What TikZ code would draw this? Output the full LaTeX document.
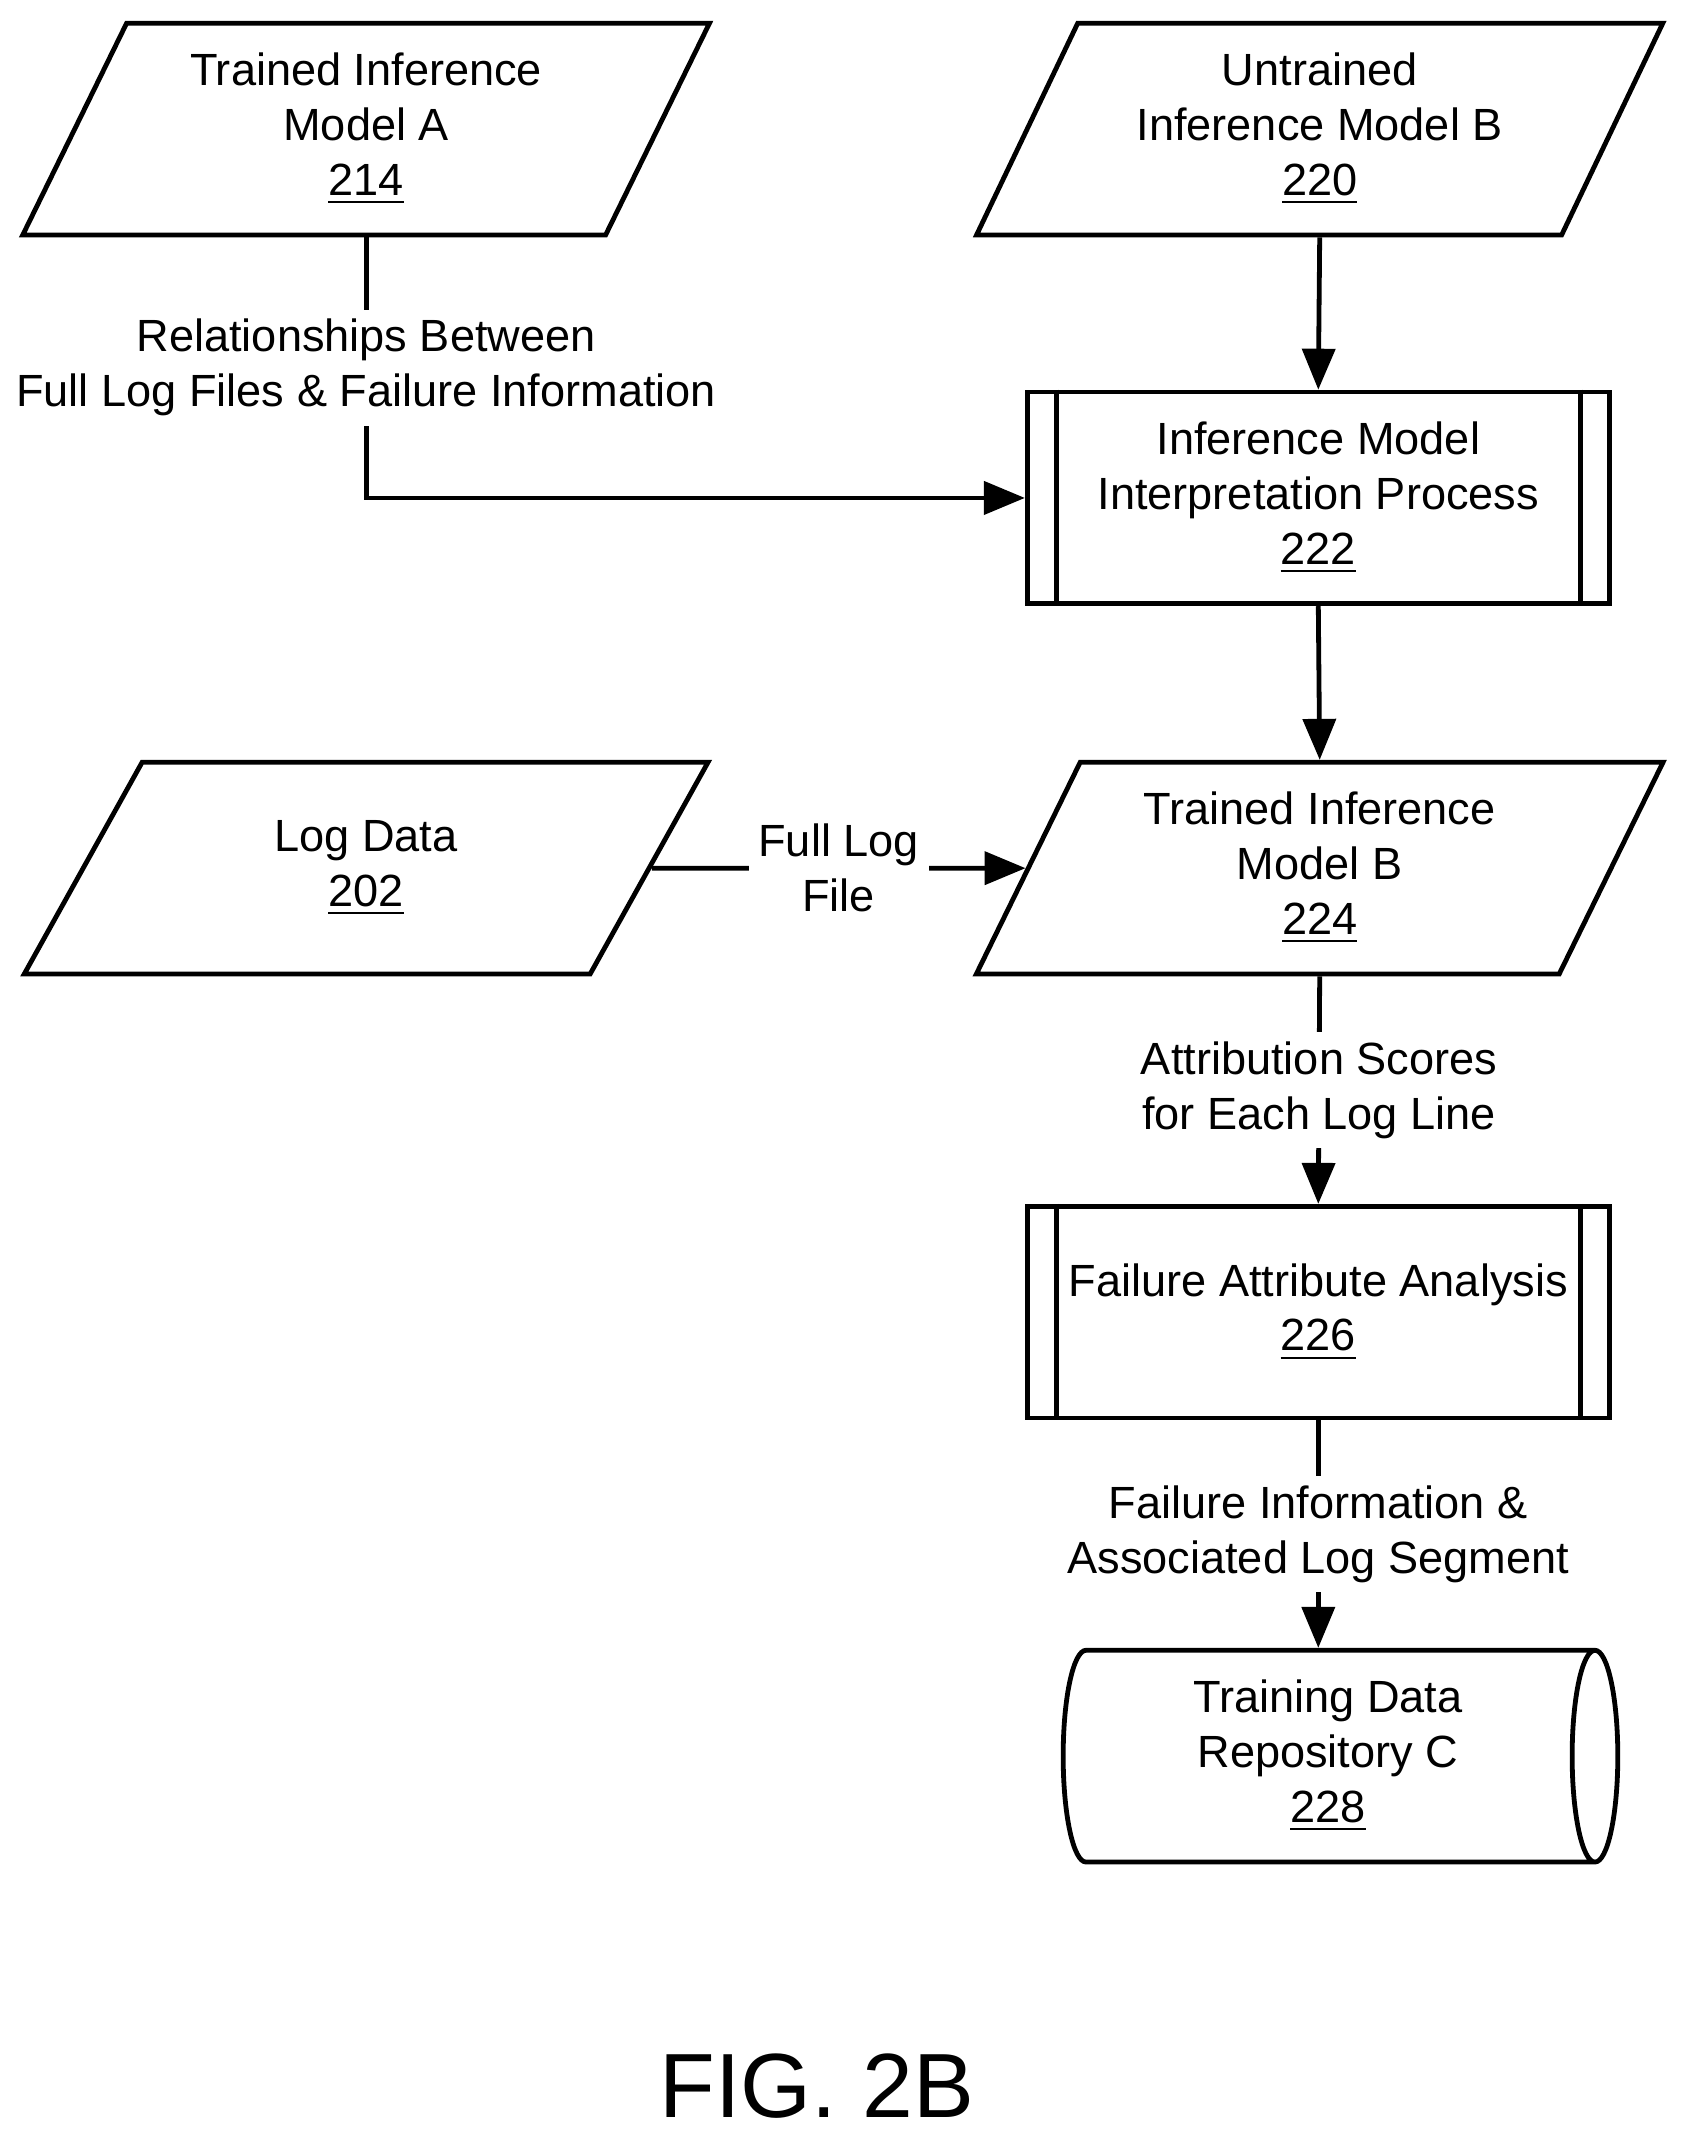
\documentclass[tikz,border=0pt]{standalone}
\usepackage{fontspec}
\setmainfont{Liberation Sans}
\usetikzlibrary{shapes.geometric, arrows.meta, positioning}

\begin{document}
\begin{tikzpicture}[
    line width=1pt,
    every node/.style={font=\fontsize{9.4pt}{11.4pt}\selectfont, align=center},
    data/.style={trapezium, draw, trapezium left angle=63.3, trapezium right angle=116.7,
        trapezium stretches=true, minimum width=5.03cm, minimum height=1.55cm, inner sep=0pt},
    process/.style={rectangle, draw, minimum width=4.26cm, minimum height=1.55cm, inner sep=0pt},
    store/.style={cylinder, draw, shape aspect=0.3, minimum width=1.55cm, minimum height=4.06cm, inner sep=0pt},
    arrow/.style={-{Triangle[length=3mm, width=2.4mm]}},
    lbl/.style={fill=white, inner sep=2pt}
]
\useasboundingbox (0,0) rectangle (12.4,-15.76);

% Inputs
\node[data] (tima) at (2.68,-0.945) {Trained Inference\\Model A\\\underline{214}};
\node[data] (uimb) at (9.66,-0.945) {Untrained\\Inference Model B\\\underline{220}};
\node[data] (logd) at (2.68,-6.355) {Log Data\\\underline{202}};

% Processes
\node[process] (imip) at (9.65,-3.645) {Inference Model\\Interpretation Process\\\underline{222}};
\node[data] (timb) at (9.66,-6.355) {Trained Inference\\Model B\\\underline{224}};
\node[process] (faa) at (9.65,-9.605) {Failure Attribute Analysis\\\underline{226}};
\node[store] (tdr) at (9.72,-12.855) {Training Data\\Repository C\\\underline{228}};

% Double side lines
\foreach \n in {imip, faa} {
  \draw ([xshift=0.23cm]\n.north west) -- ([xshift=0.23cm]\n.south west);
  \draw ([xshift=-0.23cm]\n.north east) -- ([xshift=-0.23cm]\n.south east);
}

% Connectors
\draw[arrow] (tima.south) |- node[lbl, pos=0.25] {Relationships Between\\Full Log Files \& Failure Information} (imip.west);
\draw[arrow] (uimb.south) -- (imip.north);
\draw[arrow] (imip.south) -- (timb.north);
\draw[arrow] (logd.east) -- node[lbl] {Full Log\\File} (timb.west);
\draw[arrow] (timb.south) -- node[lbl] {Attribution Scores\\for Each Log Line} (faa.north);
\draw[arrow] (faa.south) -- node[lbl] {Failure Information \&\\Associated Log Segment} (faa.south |- tdr.north);

% Figure label
\node[font=\fontsize{19pt}{21pt}\selectfont] (fig) at (5.98,-15.27) {FIG. 2B};
\end{tikzpicture}
\end{document}
